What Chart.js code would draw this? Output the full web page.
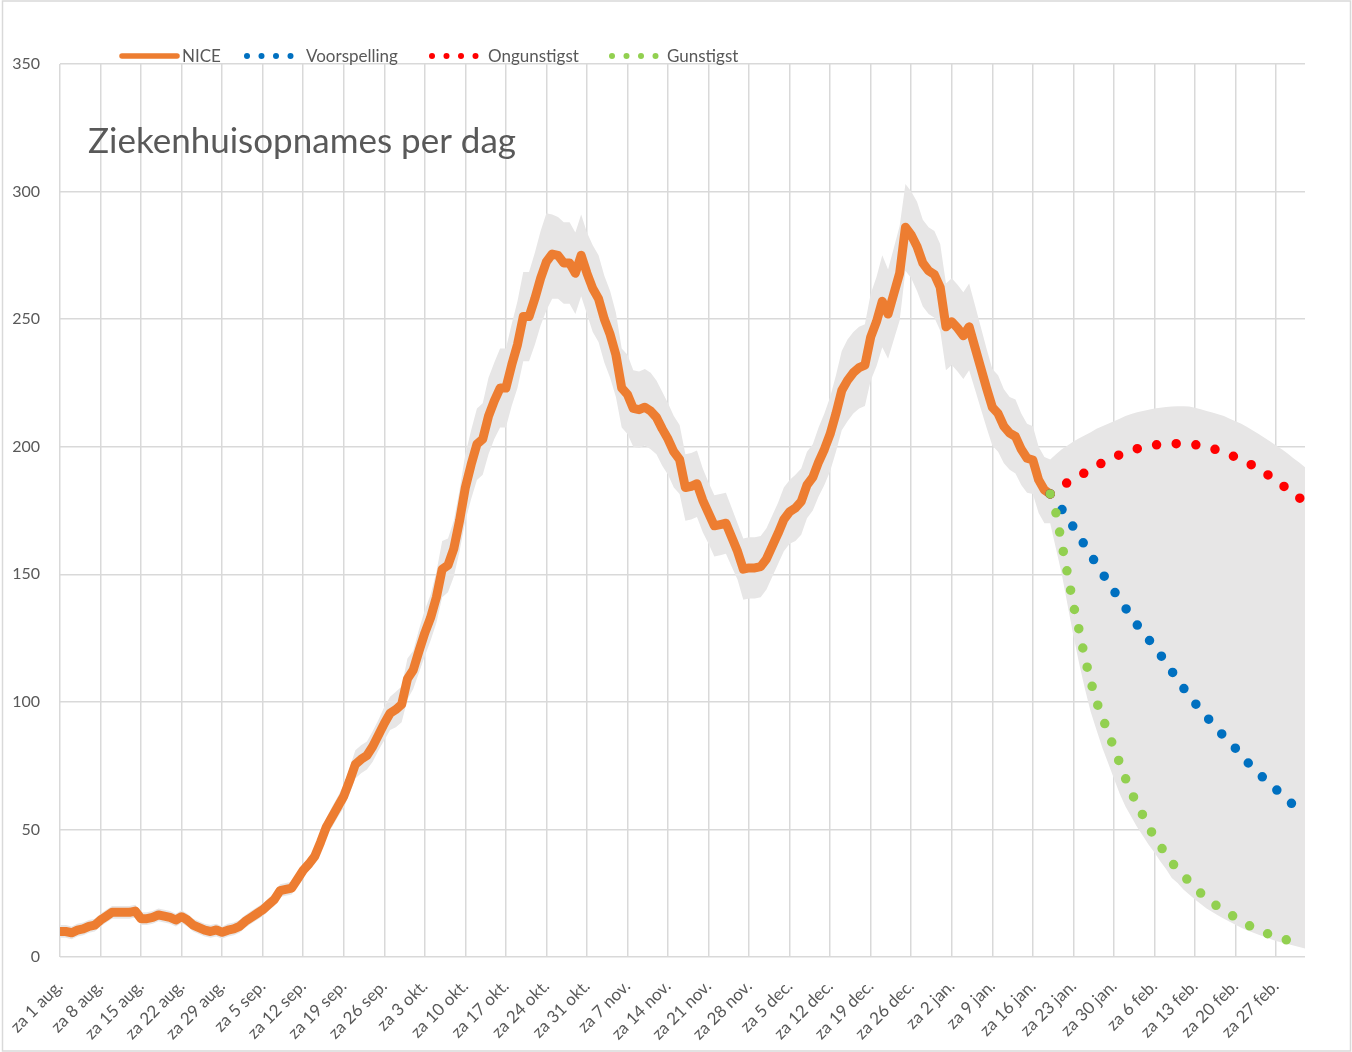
<!DOCTYPE html>
<html>
<head>
<meta charset="utf-8">
<script src="https://cdn.jsdelivr.net/npm/chart.js@4/dist/chart.umd.min.js"></script>
<style>
html,body{margin:0;padding:0;background:#fff;}
#wrap{width:1352px;height:1052px;position:relative;}
canvas{display:block;}
</style>
</head>
<body>
<div id="wrap"><canvas id="c" width="1352" height="1052"></canvas></div>
<script>
// ---- tick labels (one per week, Saturdays) ----
const weekLabels = ['za 1 aug.','za 8 aug.','za 15 aug.','za 22 aug.','za 29 aug.','za 5 sep.','za 12 sep.','za 19 sep.','za 26 sep.','za 3 okt.','za 10 okt.','za 17 okt.','za 24 okt.','za 31 okt.','za 7 nov.','za 14 nov.','za 21 nov.','za 28 nov.','za 5 dec.','za 12 dec.','za 19 dec.','za 26 dec.','za 2 jan.','za 9 jan.','za 16 jan.','za 23 jan.','za 30 jan.','za 6 feb.','za 13 feb.','za 20 feb.','za 27 feb.'];
const yTicks = [0,50,100,150,200,250,300,350];
const lastDay = 215;          // day index of the right edge (day 0 = za 1 aug.)
const forecastStart = 171;    // day index where the forecasts start

// ---- NICE: daily hospital admissions, day 0 .. 171 ----
const nice = [10,10,9.5,10.5,11,12,12.5,14.5,16,17.5,
17.5,17.5,17.5,18,15,15,15.5,16.5,16,15.5,
14.5,15.8,14.5,12.5,11.5,10.5,10,10.6,9.7,10.5,
11,12,14,15.5,17,18.5,20.5,22.5,26,26.5,
27,30.5,34,36.5,39.5,45,51,55,59,63,
69,75.5,77.5,79,82.5,87,91.5,95.5,97,99,
109,112.5,120,127,133,141,152,153.5,160,171,
184,193,201,203,212,218,223,223,232,240,
251,251,258,266,272.5,275.5,275,272,272,268,
275,268,262,258,250,244,236,223,220.5,215,
214.5,215.5,214,211.5,207,203,198,195,184,184.5,
185.5,179,174,169,169.5,170,164.5,159,152,152.5,
152.5,153,156,161,166,171.5,174.5,176,178.5,185,
188,194,199,205,213,222,226,229,231,232,
243,249,257,252,260,268,286,283,278.5,272,
269,267.5,262.5,247,249,246.5,243.5,247,239,231,
223,215.5,213,208,205.3,204,199,195.5,194.8,187,
183,181.5];

// ---- uncertainty band, day 0 .. 215 ----
const bandUpper = [12.5,12.5,12,13,13.5,14.5,15,17,18.5,20,
20,20,20,20.5,17.5,17.5,18,19,18.5,18,
17,18.3,17,15,14,13,12.5,13,12,13,
13.5,14.5,16.5,18,19.5,21,23,25,28.5,29,
29.5,33,36.5,39,42.5,48,54.5,59,63,67.5,
74,81,83,84.5,88.5,93,98,102,104,106,
117,120,128.5,136,142,151,163,164,171,183,
197,206.5,215,217,227,233,238.5,238.5,248,257,
268.5,268.5,276,284.5,291.5,291,290,288,288,284,
291,284,279,275,267,261,252.5,238.5,236,230,
229.5,230.5,229,226,221.5,217,212,208.5,197,197.5,
198.5,191.5,186,181,181.5,182,176,170,164,164.5,
164.5,165,168,173,178,184,187,189,191.5,198,
201,207.5,213,219.5,228,237.5,242,245,247,248,
260,266.5,275,269.5,278,286.5,303,300,296,289,
286,284.5,279.5,264,266,263.5,260.5,264,255.5,247,
238.5,230.5,228,222.5,219.5,218.5,213,209,208,200,
196,195,
197,199,200.5,202,203.3,204.5,205.7,207,208,209,
210,211,212,212.8,213.5,214,214.5,215,215.3,215.6,
215.8,215.9,215.9,215.8,215.3,214.7,214,213.4,212.7,212,
211,210,209,207.7,206.4,205,203.5,202,200.5,199,
197.3,195.5,193.8,192];
const bandLower = [7.5,7.5,7,8,8.5,9.5,10,12,13.5,15,
15,15,15,15.5,12.5,12.5,13,14,13.5,13,
12,13.3,12,10,9,8,7.5,8,7.2,8,
8.5,9.5,11.5,13,14.5,16,18,20,23.5,24,
24.5,28,31.5,34,36.5,42,47.5,51,55,58.5,
64,70,72,73.5,76.5,81,85,89,90,92,
101,105,111.5,118,124,131,141,143,149,159,
171,179.5,187,189,197,203,207.5,207.5,216,223,
233.5,233.5,240,247.5,253.5,258,258,256,256,252,
259,252,245,241,233,227,219.5,207.5,205,200,
199.5,200.5,199,197,192.5,189,184,181.5,171,171.5,
172.5,166.5,162,157,157.5,158,153,148,140,140.5,
140.5,141,144,149,154,159,162,163,165.5,172,
175,180.5,185,190.5,198,206.5,210,213,215,216,
226,231.5,239,234.5,242,249.5,269,266,261,255,
252,250.5,245.5,230,232,229.5,226.5,230,222.5,215,
207.5,200.5,198,193.5,191,189.5,185,182,181.5,174,
170,170,
160,150,138,126,115,105,96,89,82,76,
70,64,59,55,51,47.5,44,41,37.5,34.5,
31,29,26.5,24.5,22.5,20.8,19,17.6,16.3,15,
13.8,12.6,11.5,10.5,9.6,8.7,7.9,7.1,6.3,5.7,
5.1,4.5,3.9,3.3];

// ---- forecasts, day 171 .. 215 ----
const voorspelling = [181.5,179,175.5,172,168.5,165,161.2,157.5,154,150.5,
146.8,143.5,140,136.8,133.5,130.2,127,124.5,121.5,118.5,
115.5,112,108.8,105.5,102.3,99.5,96.8,94.2,91.5,89,
86.5,84,81.8,79.3,76.5,74.2,72,69.8,67.7,65.7,
63.6,61.5,59.6,57.8,56];
const ongunstigst = [181.5,183,184.5,186,187.4,188.6,189.8,191.2,192.4,193.7,
194.8,195.8,196.9,197.7,198.5,199.2,199.7,200.2,200.6,201,
201.1,201.2,201.2,201.1,201,200.8,200.5,200,199.3,198.6,
197.8,196.9,195.9,194.8,193.8,192.6,191.3,189.9,188.3,186.6,
185,183.5,181.8,180,178.2];
const gunstigst = [181.5,174,162,150,138,128,117,108,100,94,
88,82,76,70,64.5,60,55.5,51,47,43.5,
40.4,37,34.5,32,29.5,27,25,23,21,19.8,
18.3,16.8,15.5,14,12.8,11.5,10.5,9.6,8.7,7.8,
7.2,6.6,6,5.5,5];

const titleText = 'Ziekenhuisopnames per dag';
const FONT = 'Lato, "Open Sans", sans-serif';
const TXT = '#595959';
const GRID = '#d9d9d9';
const COLORS = {nice:'#ED7D31', voor:'#0070C0', ongun:'#FF0000', gun:'#92D050', band:'#E7E6E6'};

const pts = (start, arr) => arr.map((v, k) => ({x: start + k, y: v}));
const tickDays = weekLabels.map((_, k) => k * 7);

const legendItems = [
  {text:'NICE', color:COLORS.nice, type:'line', sx:122, tx:182},
  {text:'Voorspelling', color:COLORS.voor, type:'dots', sx:247, tx:306},
  {text:'Ongunstigst', color:COLORS.ongun, type:'dots', sx:432, tx:488},
  {text:'Gunstigst', color:COLORS.gun, type:'dots', sx:612, tx:667}
];

const decorPlugin = {
  id:'decor',
  afterDraw(chart){
    const ctx = chart.ctx;
    ctx.save();
    // title
    ctx.fillStyle = TXT;
    ctx.font = '35px ' + FONT;
    ctx.textBaseline = 'alphabetic';
    ctx.textAlign = 'left';
    ctx.fillText(titleText, 88, 153);
    // legend
    const ly = 56;
    legendItems.forEach(it => {
      ctx.fillStyle = it.color;
      ctx.strokeStyle = it.color;
      if (it.type === 'line') {
        ctx.lineWidth = 5.5; ctx.lineCap = 'round';
        ctx.beginPath(); ctx.moveTo(it.sx, ly); ctx.lineTo(it.sx + 55, ly); ctx.stroke();
      } else {
        for (let k = 0; k < 4; k++) {
          ctx.beginPath(); ctx.arc(it.sx + k * 14.5, ly, 3, 0, Math.PI * 2); ctx.fill();
        }
      }
      ctx.fillStyle = TXT;
      ctx.font = '17px ' + FONT;
      ctx.textBaseline = 'alphabetic';
      ctx.fillText(it.text, it.tx, 62);
    });
    // outer border
    ctx.strokeStyle = GRID; ctx.lineWidth = 1.5;
    ctx.strokeRect(2.5, 1, 1348, 1050);
    ctx.restore();
  }
};

const dotted = (label, data, color, order) => ({
  label, data, borderColor: color, backgroundColor: color, borderWidth: 9.5,
  borderDash: [0, 19.7], borderCapStyle: 'round', borderJoinStyle: 'round',
  pointRadius: 0, fill: false, order, tension: 0
});

new Chart(document.getElementById('c'), {
  type: 'line',
  data: {
    datasets: [
      dotted('Gunstigst', pts(forecastStart, gunstigst), COLORS.gun, 1),
      dotted('Ongunstigst', pts(forecastStart, ongunstigst), COLORS.ongun, 2),
      dotted('Voorspelling', pts(forecastStart, voorspelling), COLORS.voor, 3),
      {label:'NICE', data: pts(0, nice), borderColor: COLORS.nice, backgroundColor: COLORS.nice,
       borderWidth: 9, borderCapStyle:'round', borderJoinStyle:'round', pointRadius:0, fill:false, order:4, tension:0},
      {label:'band-hoog', data: pts(0, bandUpper), borderColor:'rgba(0,0,0,0)', borderWidth:1,
       backgroundColor: COLORS.band, pointRadius:0, fill:'+1', order:5, tension:0},
      {label:'band-laag', data: pts(0, bandLower), borderColor:'rgba(0,0,0,0)', borderWidth:1,
       backgroundColor: COLORS.band, pointRadius:0, fill:false, order:6, tension:0}
    ]
  },
  options: {
    responsive: false,
    animation: false,
    events: [],
    layout: {padding: {left: 0, right: 47, top: 64, bottom: 0}},
    plugins: {legend: {display: false}, tooltip: {enabled: false}, title: {display: false}},
    scales: {
      x: {
        type: 'linear', min: 0, max: lastDay,
        afterBuildTicks: ax => { ax.ticks = tickDays.map(v => ({value: v})); },
        afterFit: ax => { ax.height = 95; ax.paddingLeft = 0; ax.paddingRight = 0; },
        grid: {color: GRID, lineWidth: 1.5, drawTicks: false},
        border: {display: false},
        ticks: {
          autoSkip: false, minRotation: 45, maxRotation: 45, padding: 19,
          color: TXT, font: {family: FONT, size: 17},
          callback: v => weekLabels[Math.round(v / 7)]
        }
      },
      y: {
        min: 0, max: 350,
        afterBuildTicks: ax => { ax.ticks = yTicks.map(v => ({value: v})); },
        afterFit: ax => { ax.width = 60; ax.paddingTop = 0; ax.paddingBottom = 0; },
        grid: {color: GRID, lineWidth: 1.5, drawTicks: false},
        border: {display: false},
        ticks: {padding: 20, color: TXT, font: {family: FONT, size: 16}}
      }
    }
  },
  plugins: [decorPlugin]
});
</script>
</body>
</html>
